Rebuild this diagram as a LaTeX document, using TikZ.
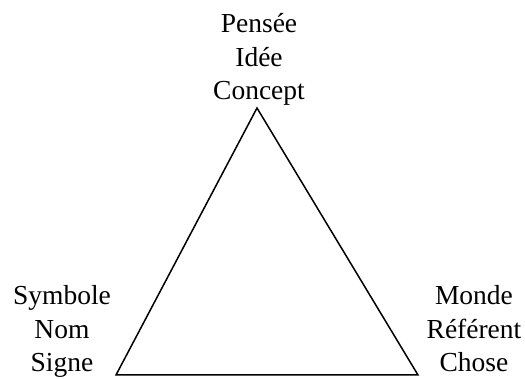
\documentclass[tikz,border=0pt]{standalone}
\usepackage{fontspec}
\setmainfont{Liberation Serif}
\begin{document}
\begin{tikzpicture}[x=1pt,y=1pt,
  label text/.style={inner sep=0pt, align=center, anchor=base,
    font=\fontsize{27.5}{33.5}\selectfont},
  edge/.style={line width=1.5pt, line join=miter}]
\useasboundingbox (0,0) rectangle (525,379);
% corners of the triangle
\coordinate (apex) at (257,271);
\coordinate (left) at (116,4);
\coordinate (right) at (418,4);
\draw[edge] (apex) -- (left) -- (right) -- cycle;
% labels at the corners (anchored on the baseline of the last line)
\node[label text] (thought) at (259,279) {Pensée\\Idée\\Concept};
\node[label text] (symbol) at (62,7) {Symbole\\Nom\\Signe};
\node[label text] (referent) at (474,7) {Monde\\Référent\\Chose};
\end{tikzpicture}
\end{document}
